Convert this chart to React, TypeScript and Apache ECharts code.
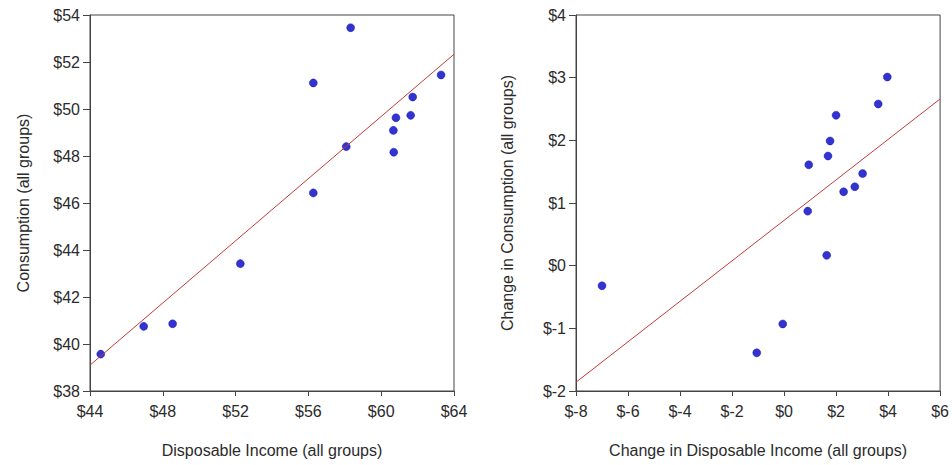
import React, { useEffect, useRef } from "react";
import * as echarts from "echarts";

// Levels: disposable income vs consumption (all groups)
const incomeLevels = [44.59, 46.95, 48.54, 52.26, 56.27, 56.27, 58.08, 58.32, 60.67, 60.69, 60.81, 61.62, 61.73, 63.29];
const consumptionLevels = [39.57, 40.75, 40.86, 43.42, 46.43, 51.11, 48.4, 53.46, 49.09, 48.16, 49.63, 49.73, 50.51, 51.45];
const levelsFit = [
  [44, 39.1],
  [64, 52.33],
];

// Changes: change in disposable income vs change in consumption
const incomeChanges = [-7.0, -1.05, -0.05, 0.91, 0.95, 1.64, 1.69, 1.77, 2.0, 2.29, 2.72, 3.02, 3.62, 3.97];
const consumptionChanges = [-0.32, -1.39, -0.93, 0.87, 1.61, 0.165, 1.75, 1.99, 2.4, 1.18, 1.26, 1.47, 2.58, 3.01];
const changesFit = [
  [-8, -1.86],
  [6, 2.66],
];

const levelsXTicks = { min: 44, max: 64, interval: 4 };
const levelsYTicks = { min: 38, max: 54, interval: 2 };
const changesXTicks = { min: -8, max: 6, interval: 2 };
const changesYTicks = { min: -2, max: 4, interval: 1 };

const FONT = "'Liberation Sans', Arial, sans-serif";
const FONT_SIZE = 16;
const TEXT = "#2b2b2b";
const AXIS = "#444444";
const DOT = "#0000c0";
const FIT = "#c43a3a";

const money = (v: number) => "$" + v;

function xAxis(gridIndex: number, ticks: { min: number; max: number; interval: number }, name: string) {
  return {
    type: "value",
    gridIndex,
    ...ticks,
    name,
    nameLocation: "middle",
    nameGap: 51,
    nameTextStyle: { fontFamily: FONT, fontSize: FONT_SIZE, color: TEXT },
    axisLine: { show: true, onZero: false, lineStyle: { color: AXIS, width: 1 } },
    axisTick: { show: true, length: 5, lineStyle: { color: AXIS } },
    axisLabel: { formatter: money, fontFamily: FONT, fontSize: FONT_SIZE, color: TEXT, margin: 12 },
    splitLine: { show: false },
  };
}

function yAxis(gridIndex: number, ticks: { min: number; max: number; interval: number }, name: string, gap: number) {
  return {
    type: "value",
    gridIndex,
    ...ticks,
    name,
    nameLocation: "middle",
    nameGap: gap,
    nameTextStyle: { fontFamily: FONT, fontSize: FONT_SIZE, color: TEXT },
    axisLine: { show: true, onZero: false, lineStyle: { color: AXIS, width: 1 } },
    axisTick: { show: true, length: 7, lineStyle: { color: AXIS } },
    axisLabel: { formatter: money, fontFamily: FONT, fontSize: FONT_SIZE, color: TEXT, margin: 10 },
    splitLine: { show: false },
  };
}

export default function App() {
  const ref = useRef<HTMLDivElement>(null);

  useEffect(() => {
    if (!ref.current) return;
    const chart = echarts.init(ref.current, undefined, { renderer: "svg" });
    chart.setOption({
      animation: false,
      backgroundColor: "#ffffff",
      grid: [
        { left: 90, top: 15, width: 364, height: 376, show: true, borderColor: AXIS, borderWidth: 1 },
        { left: 576, top: 15, width: 365, height: 376, show: true, borderColor: AXIS, borderWidth: 1 },
      ],
      xAxis: [
        xAxis(0, levelsXTicks, "Disposable Income (all groups)"),
        xAxis(1, changesXTicks, "Change in Disposable Income (all groups)"),
      ],
      yAxis: [
        yAxis(0, levelsYTicks, "Consumption (all groups)", 59),
        yAxis(1, changesYTicks, "Change in Consumption (all groups)", 61),
      ],
      series: [
        {
          type: "line",
          xAxisIndex: 0,
          yAxisIndex: 0,
          data: levelsFit,
          symbol: "none",
          lineStyle: { color: FIT, width: 1 },
          silent: true,
        },
        {
          type: "scatter",
          xAxisIndex: 0,
          yAxisIndex: 0,
          data: incomeLevels.map((x, i) => [x, consumptionLevels[i]]),
          symbolSize: 8,
          itemStyle: { color: DOT, borderColor: DOT, borderWidth: 0.5 },
        },
        {
          type: "line",
          xAxisIndex: 1,
          yAxisIndex: 1,
          data: changesFit,
          symbol: "none",
          lineStyle: { color: FIT, width: 1 },
          silent: true,
        },
        {
          type: "scatter",
          xAxisIndex: 1,
          yAxisIndex: 1,
          data: incomeChanges.map((x, i) => [x, consumptionChanges[i]]),
          symbolSize: 8,
          itemStyle: { color: DOT, borderColor: DOT, borderWidth: 0.5 },
        },
      ],
    });
    return () => chart.dispose();
  }, []);

  return (
    <div
      ref={ref}
      style={{ position: "fixed", left: 0, top: 0, width: 952, height: 465, background: "#fff" }}
    />
  );
}
